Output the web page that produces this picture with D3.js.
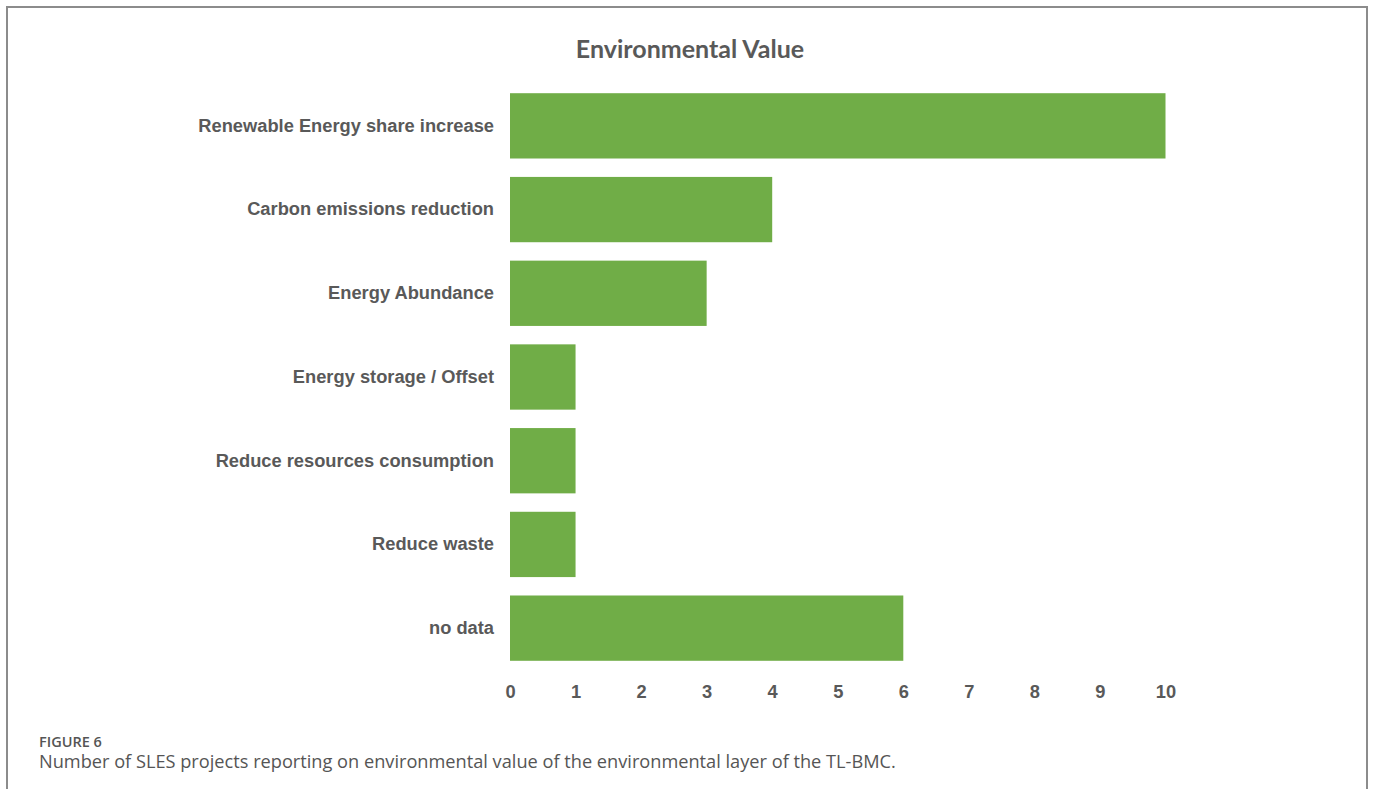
<!DOCTYPE html>
<html>
<head>
<meta charset="utf-8">
<script src="https://cdn.jsdelivr.net/npm/d3@7"></script>
<style>
  html, body { margin: 0; padding: 0; background: #fff; }
  svg { display: block; }
</style>
</head>
<body>
<svg id="chart" width="1373" height="789"></svg>
<script>
const categories = [
  "Renewable Energy share increase",
  "Carbon emissions reduction",
  "Energy Abundance",
  "Energy storage / Offset",
  "Reduce resources consumption",
  "Reduce waste",
  "no data"
];
const values = [10, 4, 3, 1, 1, 1, 6];
const xTicks = [0, 1, 2, 3, 4, 5, 6, 7, 8, 9, 10];
const title = "Environmental Value";
const figLabel = "FIGURE 6";
const caption = "Number of SLES projects reporting on environmental value of the environmental layer of the TL-BMC.";

const svg = d3.select("#chart");

// frame (top, left, right)
svg.append("path")
  .attr("d", "M7,789 L7,7 L1367,7 L1367,789")
  .attr("fill", "none")
  .attr("stroke", "#8c8c8c")
  .attr("stroke-width", 2);

const x = d3.scaleLinear().domain([0, 10]).range([510, 1165.5]);
const y = d3.scaleBand().domain(categories).range([84, 670]).paddingInner(0.22).paddingOuter(0.11);

svg.append("text")
  .attr("x", 690).attr("y", 58)
  .attr("text-anchor", "middle")
  .attr("font-family", "Lato, 'Open Sans', sans-serif")
  .attr("font-weight", "bold")
  .attr("font-size", 25)
  .attr("fill", "#595959")
  .text(title);

svg.append("g").selectAll("rect")
  .data(categories)
  .join("rect")
  .attr("x", x(0))
  .attr("y", d => y(d))
  .attr("width", (d, i) => x(values[i]) - x(0))
  .attr("height", y.bandwidth())
  .attr("fill", "#70ad47");

// y axis labels
const yAxis = d3.axisLeft(y).tickSize(0).tickPadding(16);
const gy = svg.append("g").attr("transform", `translate(${x(0)},0)`).call(yAxis);
gy.select(".domain").remove();
gy.selectAll("text")
  .attr("font-family", "'Liberation Sans', Arial, sans-serif")
  .attr("font-weight", "bold")
  .attr("font-size", 18.3)
  .attr("fill", "#595959");

// x axis
const xAxis = d3.axisBottom(x).tickValues(xTicks).tickFormat(d3.format("d")).tickSize(0).tickPadding(0);
const gx = svg.append("g").attr("transform", `translate(0,685)`).call(xAxis);
gx.select(".domain").remove();
gx.selectAll("text")
  .attr("font-family", "'Liberation Sans', Arial, sans-serif")
  .attr("font-weight", "bold")
  .attr("font-size", 18.3)
  .attr("fill", "#595959");

svg.append("text")
  .attr("x", 39).attr("y", 747)
  .attr("font-family", "'Open Sans', sans-serif")
  .attr("font-weight", 600)
  .attr("font-size", 14.5)
  .attr("fill", "#555")
  .text(figLabel);

svg.append("text")
  .attr("x", 39).attr("y", 768)
  .attr("font-family", "'Open Sans', sans-serif")
  .attr("font-weight", 400)
  .attr("font-size", 18.2)
  .attr("fill", "#555")
  .text(caption);
</script>
</body>
</html>
